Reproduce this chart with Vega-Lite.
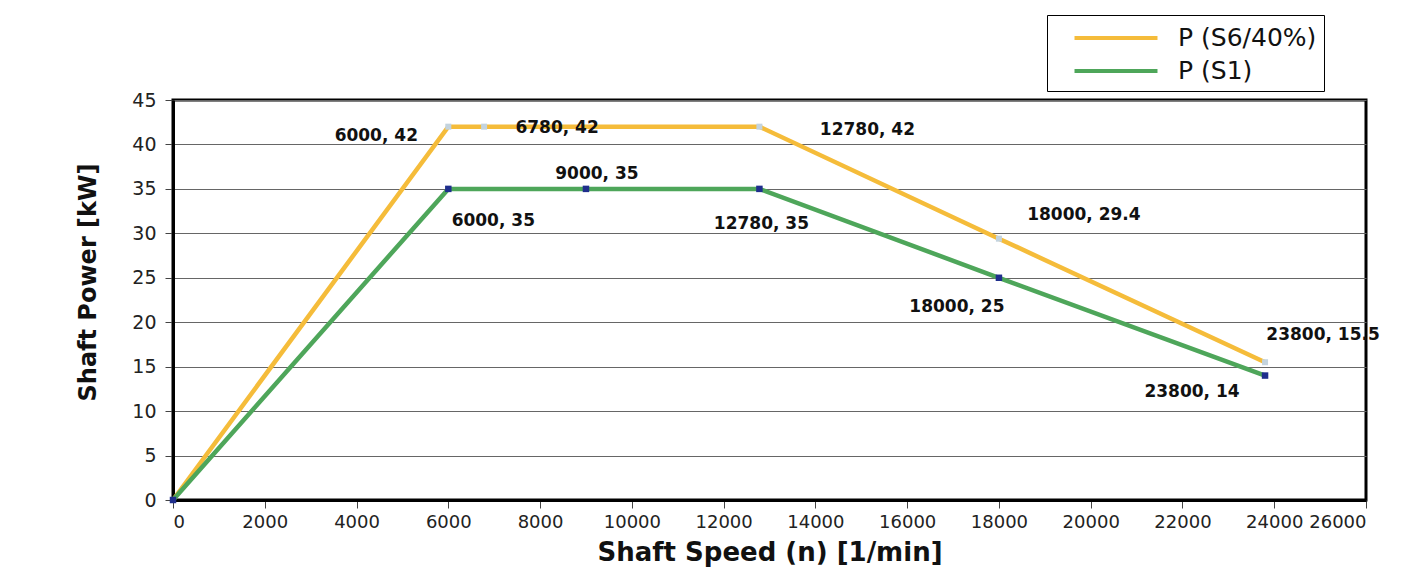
{
  "$schema": "https://vega.github.io/schema/vega-lite/v6.json",
  "width": 1193,
  "height": 400,
  "autosize": {"type": "none"},
  "padding": {"left": 173, "top": 100, "right": 46, "bottom": 74},
  "background": "white",
  "data": {
    "values": [
      {"series": "P (S6/40%)", "s": "S6", "n": 0, "p": 0},
      {"series": "P (S6/40%)", "s": "S6", "n": 6000, "p": 42},
      {"series": "P (S6/40%)", "s": "S6", "n": 6780, "p": 42},
      {"series": "P (S6/40%)", "s": "S6", "n": 12780, "p": 42},
      {"series": "P (S6/40%)", "s": "S6", "n": 18000, "p": 29.4},
      {"series": "P (S6/40%)", "s": "S6", "n": 23800, "p": 15.5},
      {"series": "P (S1)", "s": "S1", "n": 0, "p": 0},
      {"series": "P (S1)", "s": "S1", "n": 6000, "p": 35},
      {"series": "P (S1)", "s": "S1", "n": 9000, "p": 35},
      {"series": "P (S1)", "s": "S1", "n": 12780, "p": 35},
      {"series": "P (S1)", "s": "S1", "n": 18000, "p": 25},
      {"series": "P (S1)", "s": "S1", "n": 23800, "p": 14}
    ]
  },
  "transform": [{"calculate": "datum.n + ', ' + datum.p", "as": "lbl"}],
  "encoding": {
    "x": {
      "field": "n",
      "type": "quantitative",
      "scale": {"domain": [0, 26000], "nice": false},
      "axis": {
        "title": "Shaft Speed (n) [1/min]",
        "values": [0, 2000, 4000, 6000, 8000, 10000, 12000, 14000, 16000, 18000, 20000, 22000, 24000, 26000],
        "format": "d",
        "grid": false,
        "titlePadding": 8
      }
    },
    "y": {
      "field": "p",
      "type": "quantitative",
      "scale": {"domain": [0, 45], "nice": false},
      "axis": {
        "title": "Shaft Power [kW]",
        "values": [0, 5, 10, 15, 20, 25, 30, 35, 40, 45],
        "grid": true,
        "labelPadding": 9,
        "titleX": -85,
        "titleY": 182,
        "titleAlign": "center",
        "titleBaseline": "middle",
        "titleAngle": -90
      }
    }
  },
  "layer": [
    {
      "mark": {"type": "line", "strokeWidth": 4.5},
      "encoding": {
        "color": {
          "field": "series",
          "type": "nominal",
          "sort": ["P (S6/40%)", "P (S1)"],
          "scale": {"domain": ["P (S6/40%)", "P (S1)"], "range": ["#F5BC3A", "#4EA65A"]},
          "legend": {
            "title": null,
            "orient": "none",
            "legendX": 874,
            "legendY": -85,
            "symbolType": "M-3,0H3",
            "symbolSize": 765,
            "symbolStrokeWidth": 4,
            "symbolOffset": 46,
            "labelExpr": "datum.label + '\u00a0\u00a0\u00a0\u00a0\u00a0'",
            "labelFont": "DejaVu Sans",
            "labelFontSize": 25,
            "labelColor": "#111",
            "labelOffset": 46,
            "rowPadding": 4,
            "padding": 7,
            "fillColor": "white",
            "strokeColor": "black"
          }
        }
      }
    },
    {
      "transform": [{"filter": "datum.s == 'S6'"}],
      "mark": {"type": "square", "size": 36, "filled": true, "color": "#C3D3DE", "opacity": 1}
    },
    {
      "transform": [{"filter": "datum.s == 'S1'"}],
      "mark": {"type": "square", "size": 42, "filled": true, "color": "#1F2E8C", "opacity": 1}
    },
    {
      "transform": [{"filter": "datum.s == 'S6' && datum.n == 6000"}],
      "mark": {"type": "text", "dx": -72, "dy": 9},
      "encoding": {"text": {"field": "lbl"}}
    },
    {
      "transform": [{"filter": "datum.s == 'S6' && datum.n == 6780"}],
      "mark": {"type": "text", "dx": 73, "dy": 1},
      "encoding": {"text": {"field": "lbl"}}
    },
    {
      "transform": [{"filter": "datum.s == 'S6' && datum.n == 12780"}],
      "mark": {"type": "text", "dx": 108, "dy": 3},
      "encoding": {"text": {"field": "lbl"}}
    },
    {
      "transform": [{"filter": "datum.s == 'S6' && datum.n == 18000"}],
      "mark": {"type": "text", "dx": 85, "dy": -24},
      "encoding": {"text": {"field": "lbl"}}
    },
    {
      "transform": [{"filter": "datum.s == 'S6' && datum.n == 23800"}],
      "mark": {"type": "text", "dx": 58, "dy": -27},
      "encoding": {"text": {"field": "lbl"}}
    },
    {
      "transform": [{"filter": "datum.s == 'S1' && datum.n == 6000"}],
      "mark": {"type": "text", "dx": 45, "dy": 32},
      "encoding": {"text": {"field": "lbl"}}
    },
    {
      "transform": [{"filter": "datum.s == 'S1' && datum.n == 9000"}],
      "mark": {"type": "text", "dx": 11, "dy": -15},
      "encoding": {"text": {"field": "lbl"}}
    },
    {
      "transform": [{"filter": "datum.s == 'S1' && datum.n == 12780"}],
      "mark": {"type": "text", "dx": 2, "dy": 35},
      "encoding": {"text": {"field": "lbl"}}
    },
    {
      "transform": [{"filter": "datum.s == 'S1' && datum.n == 18000"}],
      "mark": {"type": "text", "dx": -42, "dy": 29},
      "encoding": {"text": {"field": "lbl"}}
    },
    {
      "transform": [{"filter": "datum.s == 'S1' && datum.n == 23800"}],
      "mark": {"type": "text", "dx": -73, "dy": 16},
      "encoding": {"text": {"field": "lbl"}}
    }
  ],
  "config": {
    "font": "DejaVu Sans",
    "view": {"stroke": "black", "strokeWidth": 3},
    "text": {"font": "DejaVu Sans", "fontSize": 17, "fontWeight": "bold", "color": "#111", "align": "center", "baseline": "middle"},
    "axis": {
      "domainColor": "black",
      "domainWidth": 3,
      "tickColor": "#444",
      "tickSize": 8,
      "tickWidth": 1,
      "gridColor": "#666",
      "gridWidth": 1,
      "labelFont": "DejaVu Sans",
      "labelFontSize": 18,
      "labelColor": "#222",
      "labelPadding": 5,
      "titleFont": "DejaVu Sans",
      "titleFontWeight": "bold",
      "titleColor": "#111"
    },
    "axisX": {"titleFontSize": 26},
    "axisY": {"titleFontSize": 24, "labelFontSize": 19}
  }
}
